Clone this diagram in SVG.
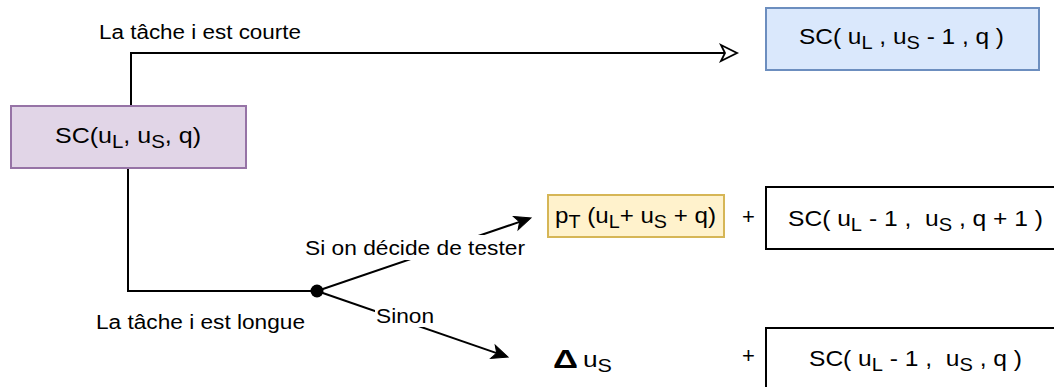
<svg xmlns="http://www.w3.org/2000/svg" width="1054" height="387" viewBox="0 0 1054 387">
<style>
text{font-family:"Liberation Sans",Arial,sans-serif;fill:#000}
.lbl{font-size:19.5px}
.bx{font-size:22px}
.sub{font-size:18px}
.plus{font-size:22px}
.line{fill:none;stroke:#000;stroke-width:2}
</style>
<defs>
<marker id="hollow" markerUnits="userSpaceOnUse" markerWidth="20" markerHeight="20" refX="4" refY="8" orient="auto" overflow="visible">
<path d="M0,0 L16,8 L0,16 L4,8 Z" fill="#fff" stroke="#000" stroke-width="1.8"/>
</marker>
<marker id="filled" markerUnits="userSpaceOnUse" markerWidth="20" markerHeight="20" refX="4" refY="7" orient="auto" overflow="visible">
<path d="M0,0 L16,7 L0,14 L4,7 Z" fill="#000" stroke="#000" stroke-width="1"/>
</marker>
</defs>
<rect width="1054" height="387" fill="#fff"/>
<g id="connectors">
<path class="line" d="M131,106 V53 H725" marker-end="url(#hollow)"/>
<path class="line" d="M128,168 V291 H317"/>
<path class="line" d="M317,291 L519.6,221.9" marker-end="url(#filled)"/>
<path class="line" d="M317,291 L496.7,353.1" marker-end="url(#filled)"/>
<circle cx="317" cy="291" r="6.5" fill="#000"/>
<text class="lbl" x="99" y="39" textLength="202" lengthAdjust="spacingAndGlyphs">La tâche i est courte</text>
<text class="lbl" x="96" y="329" textLength="209" lengthAdjust="spacingAndGlyphs">La tâche i est longue</text>
<rect x="304" y="235" width="222" height="25" fill="#fff"/>
<text class="lbl" x="305" y="255" textLength="220" lengthAdjust="spacingAndGlyphs">Si on décide de tester</text>
<rect x="375" y="306" width="60" height="21" fill="#fff"/>
<text class="lbl" x="376" y="323" textLength="58" lengthAdjust="spacingAndGlyphs">Sinon</text>
</g>
<g id="node-root">
<rect x="11" y="106" width="235" height="62" fill="#e1d5e7" stroke="#9673a6" stroke-width="2"/>
<text class="bx" x="55" y="143" textLength="146" lengthAdjust="spacingAndGlyphs">SC(u<tspan class="sub" dy="5">L</tspan><tspan dy="-5">, u</tspan><tspan class="sub" dy="5">S</tspan><tspan dy="-5">, q)</tspan></text>
</g>
<g id="node-short">
<rect x="766" y="8" width="273" height="62" fill="#dae8fc" stroke="#6c8ebf" stroke-width="2"/>
<text class="bx" x="799" y="44" textLength="205" lengthAdjust="spacingAndGlyphs" xml:space="preserve">SC( u<tspan class="sub" dy="5">L</tspan><tspan dy="-5"> , u</tspan><tspan class="sub" dy="5">S</tspan><tspan dy="-5"> - 1 , q )</tspan></text>
</g>
<g id="node-test-cost">
<rect x="548" y="195" width="176" height="42" fill="#fff2cc" stroke="#d6b656" stroke-width="2"/>
<text class="bx" x="555" y="223" textLength="161" lengthAdjust="spacingAndGlyphs" xml:space="preserve">p<tspan class="sub" dy="5">T</tspan><tspan dy="-5"> (u</tspan><tspan class="sub" dy="5">L</tspan><tspan dy="-5">+ u</tspan><tspan class="sub" dy="5">S</tspan><tspan dy="-5"> + q)</tspan></text>
</g>
<g id="plus-1">
<text class="plus" x="748.5" y="224" text-anchor="middle">+</text>
</g>
<g id="node-test-rest">
<rect x="766" y="187" width="300" height="62" fill="#fff" stroke="#000" stroke-width="2"/>
<text class="bx" x="788" y="226" textLength="255" lengthAdjust="spacingAndGlyphs" xml:space="preserve">SC( u<tspan class="sub" dy="5">L</tspan><tspan dy="-5"> - 1 ,  u</tspan><tspan class="sub" dy="5">S</tspan><tspan dy="-5"> , q + 1 )</tspan></text>
</g>
<g id="node-delta">
<text x="553" y="368" font-size="26px" font-weight="bold" textLength="25" lengthAdjust="spacingAndGlyphs">Δ</text>
<text class="bx" x="583" y="367" textLength="29" lengthAdjust="spacingAndGlyphs">u<tspan class="sub" dy="5">S</tspan></text>
</g>
<g id="plus-2">
<text class="plus" x="748.5" y="363" text-anchor="middle">+</text>
</g>
<g id="node-else-rest">
<rect x="766" y="328" width="300" height="62" fill="#fff" stroke="#000" stroke-width="2"/>
<text class="bx" x="809" y="366" textLength="213" lengthAdjust="spacingAndGlyphs" xml:space="preserve">SC( u<tspan class="sub" dy="5">L</tspan><tspan dy="-5"> - 1 ,  u</tspan><tspan class="sub" dy="5">S</tspan><tspan dy="-5"> , q )</tspan></text>
</g>
</svg>
